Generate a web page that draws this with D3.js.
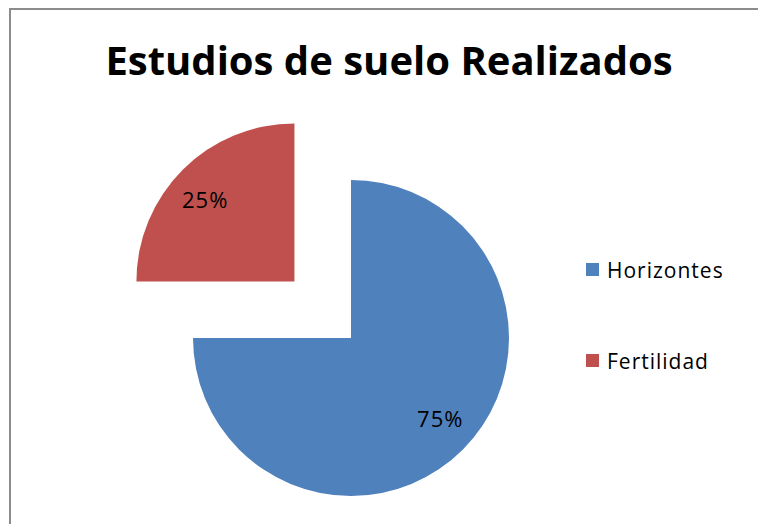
<!DOCTYPE html>
<html>
<head>
<meta charset="utf-8">
<script src="https://cdn.jsdelivr.net/npm/d3@7"></script>
<style>
  body { margin: 0; background: #fff; }
  text { font-family: "Open Sans", "Liberation Sans", sans-serif; }
</style>
</head>
<body>
<svg></svg>
<script>
const size = {w: 758, h: 524};
const svg = d3.select('svg')
    .attr('width', size.w)
    .attr('height', size.h);

const categories = ['Horizontes', 'Fertilidad'];
const values = [75, 25];
const labels = ['75%', '25%'];
const colors = ['#4F81BD', '#C0504D'];
const exploded = [false, true];

// chart frame (right and bottom edges run off the page)
svg.append('rect')
    .attr('x', 10).attr('y', 9)
    .attr('width', size.w + 10).attr('height', size.h + 10)
    .attr('fill', '#fff')
    .attr('stroke', '#8c8c8c')
    .attr('stroke-width', 2);

svg.append('text')
    .attr('x', 389).attr('y', 75)
    .attr('text-anchor', 'middle')
    .attr('font-weight', 'bold')
    .attr('font-size', 40)
    .attr('fill', '#000')
    .text('Estudios de suelo Realizados');

const cx = 351, cy = 338, r = 158;
const explode = 80;
const labelR = r * 0.765;

const data = categories.map((c, i) => ({name: c, value: values[i], label: labels[i], color: colors[i], out: exploded[i]}));

const pie = d3.pie().sort(null).value(d => d.value);
const arc = d3.arc().innerRadius(0).outerRadius(r);

const pieG = svg.append('g').attr('transform', `translate(${cx},${cy})`);

const slices = pieG.selectAll('g.slice')
    .data(pie(data))
    .enter()
    .append('g')
    .classed('slice', true)
    .attr('transform', function (d) {
        if (!d.data.out) return null;
        let a = (d.startAngle + d.endAngle) / 2;
        return `translate(${Math.sin(a) * explode},${-Math.cos(a) * explode})`;
    });

slices.append('path')
    .attr('d', arc)
    .attr('fill', d => d.data.color);

// labels sit a touch counter-clockwise of the mid angle, like the original
slices.append('text')
    .attr('transform', function (d) {
        let a = (d.startAngle + d.endAngle) / 2 - 0.045;
        return `translate(${Math.sin(a) * labelR},${-Math.cos(a) * labelR})`;
    })
    .attr('text-anchor', 'middle')
    .attr('dy', '0.36em')
    .attr('font-size', 22)
    .attr('letter-spacing', 1)
    .attr('fill', '#000')
    .text(d => d.data.label);

// legend
const legend = svg.append('g').attr('transform', 'translate(586,263)');
const items = legend.selectAll('g')
    .data(data)
    .enter()
    .append('g')
    .attr('transform', (d, i) => `translate(0,${i * 91})`);

items.append('rect')
    .attr('width', 13).attr('height', 13)
    .attr('fill', d => d.color);

items.append('text')
    .attr('x', 21).attr('y', 15)
    .attr('font-size', 21)
    .attr('letter-spacing', 1)
    .attr('fill', '#000')
    .text(d => d.name);
</script>
</body>
</html>
